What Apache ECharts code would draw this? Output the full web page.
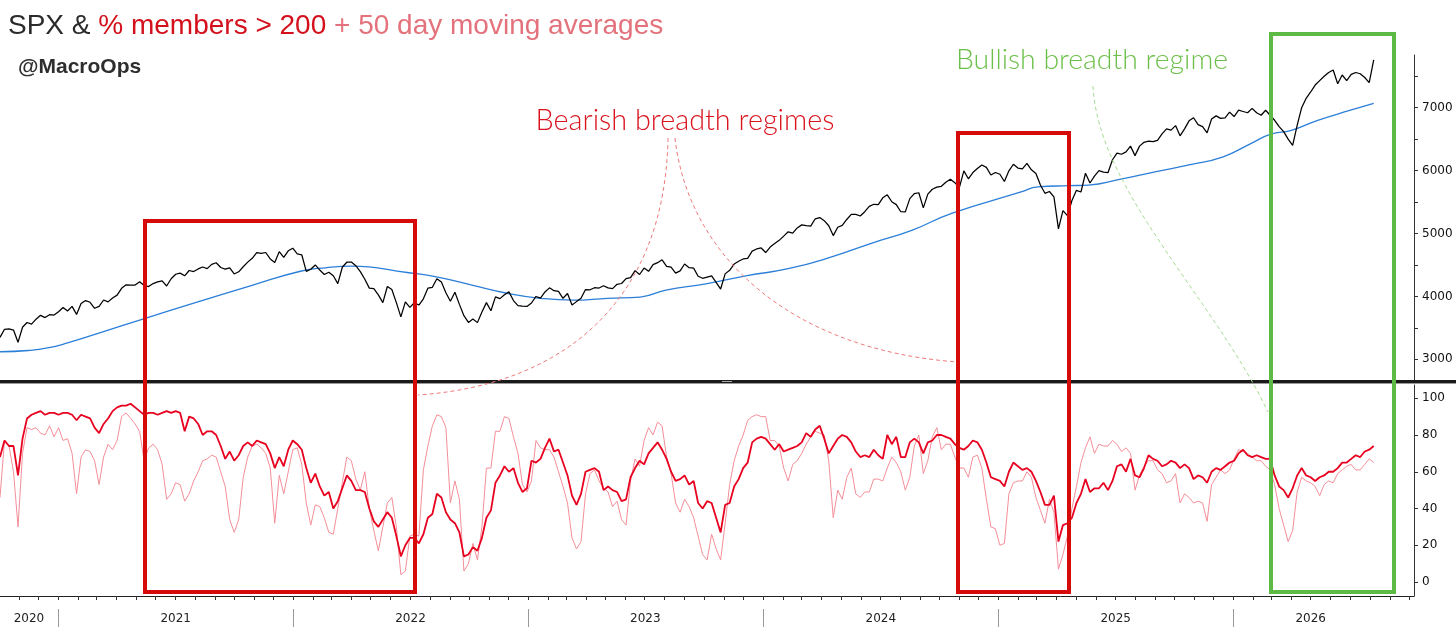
<!DOCTYPE html>
<html>
<head>
<meta charset="utf-8">
<script src="https://cdn.jsdelivr.net/npm/echarts@6/dist/echarts.min.js"></script>
<style>
html,body{margin:0;padding:0;background:#fff;}
#chart{width:1456px;height:627px;}
</style>
</head>
<body>
<div id="chart"></div>
<script>
// ---- DATA (weekly, first week ending 2020-10-02) ----
const weekStart = [2020, 10, 2];

const spx = [
3348,3477,3483,3465,3270,3509,3585,3558,3638,3699,3663,3709,3703,3756,
3824,3768,3841,3714,3886,3934,3907,3811,3842,3943,3913,3975,4020,4129,4185,4180,4181,4233,4174,4156,4204,4230,4247,4166,4281,4352,4370,4327,4412,4395,4437,4468,4442,4509,4535,4459,4433,4455,4357,4391,4471,4545,4605,4697,4683,4698,4595,4538,4712,4620,4725,4766,
4677,4662,4398,4432,4500,4419,4349,4385,4329,4204,4463,4543,4546,4488,4393,4272,4132,4123,4024,3901,4158,4109,3901,3675,3912,3825,3899,3863,3962,4130,4145,4280,4228,4058,3924,4067,3873,3693,3586,3640,3583,3752,3901,3771,3993,3965,4026,4072,3934,3852,3845,3840,
3895,3999,3973,4071,4136,4090,4079,3970,4046,3862,3917,3971,4109,4105,4138,4133,4169,4136,4124,4192,4205,4282,4299,4410,4348,4450,4399,4505,4536,4582,4478,4464,4370,4406,4515,4457,4450,4320,4288,4308,4327,4224,4117,4358,4415,4514,4559,4595,4604,4719,4754,4770,
4697,4784,4840,4891,4959,5027,5006,5089,5137,5124,5117,5234,5254,5204,5123,4967,5100,5128,5223,5303,5305,5278,5347,5432,5465,5460,5567,5615,5505,5459,5346,5344,5554,5634,5648,5408,5626,5703,5738,5751,5815,5864,5808,5729,5995,5870,5969,6032,6090,6051,5931,5970,
5942,5827,5997,6101,6041,6026,6115,6013,5955,5770,5639,5668,5581,5074,5363,5283,5525,5686,5660,5958,5803,5912,6000,5977,5967,6173,6279,6260,6297,6389,6238,6389,6450,6467,6460,6482,6584,6664,6643,6716,6553,6664,6791,6840,
6730,6700,6600,6820,6870,6830,6840,6930,6860,6960,6940,6920,6990,6920,6880,6960,6880,6800,6700,6620,6500,6400,6720,7000,7150,7250,7360,7430,7500,7560,7600,7380,7520,7430,7530,7560,7540,7480,7400,7760
];

const ma200Dates = ['2020-10-02','2020-11-15','2020-12-15','2021-01-15','2021-03-06','2021-05-12','2021-08-08','2021-10-30','2022-01-12','2022-02-20','2022-04-01','2022-06-27','2022-08-17','2022-10-07','2022-11-29','2023-01-20','2023-03-12','2023-05-04','2023-06-24','2023-08-03','2023-10-04','2023-12-07','2024-02-09','2024-04-14','2024-06-16','2024-08-19','2024-10-20','2025-02-05','2025-03-03','2025-04-20','2025-05-21','2025-07-08','2025-09-01','2025-10-24','2025-12-16','2026-01-28','2026-02-28','2026-04-01','2026-05-12','2026-07-02','2026-08-07'];
const ma200Values = [3120,3140,3180,3260,3420,3640,3920,4180,4400,4455,4480,4380,4300,4175,4050,3970,3940,3970,3990,4100,4200,4330,4440,4620,4840,5050,5320,5660,5740,5760,5770,5860,5980,6090,6220,6430,6580,6640,6800,6960,7070];

const pct200 = [
68,77,74,74,58,78,89,91,92,93,91,92,92,91,92,92,91,88,91,90,89,84,81,86,89,93,95,96,96,97,95,93,91,92,92,91,92,93,92,93,92,82,90,89,86,80,82,82,80,74,67,71,66,69,74,76,74,77,76,75,70,62,68,63,72,77,75,72,62,54,59,52,47,49,40,44,51,58,55,50,50,49,40,33,30,34,38,35,25,14,20,24,24,21,26,35,37,48,46,38,34,32,27,14,15,
19,17,24,35,39,54,58,63,60,62,54,49,51,66,65,67,73,78,71,72,65,58,47,42,48,60,61,62,60,50,52,50,49,44,45,57,62,66,64,70,73,76,72,67,60,55,56,58,53,55,43,40,44,43,35,27,42,43,52,56,62,65,76,78,79,78,75,72,75,71,72,73,74,76,81,79,83,85,78,70,74,78,80,79,76,71,68,69,68,72,69,67,80,75,79,68,68,76,78,76,70,76,
77,80,80,79,78,75,73,72,74,77,76,72,65,57,56,55,52,60,65,63,61,62,60,55,49,42,42,47,22,31,32,35,43,48,56,49,51,51,54,50,55,63,64,60,67,58,57,62,69,67,66,63,64,66,65,62,64,62,56,58,57,54,60,62,61,63,65,66,70,72,69,68,69,68,67,67,58,52,50,46,51,58,62,58,57,55,57,58,60,60,62,65,65,67,69,68,71,72,74
];

const pct50 = [
46,77,74,60,30,70,84,83,84,81,80,85,79,84,77,78,70,48,68,72,71,66,53,68,75,72,77,90,92,89,86,82,66,73,75,72,64,45,48,54,53,44,48,55,60,66,67,69,68,60,52,34,27,34,57,68,74,75,73,70,62,32,58,48,60,72,73,64,43,31,42,41,35,27,26,40,54,68,66,56,50,60,40,28,17,30,43,46,30,4,6,25,26,25,61,74,85,91,90,84,43,55,45,6,10,
21,12,30,62,62,82,82,90,89,79,70,53,49,55,77,73,72,72,68,60,52,43,24,18,22,48,59,61,55,51,49,41,44,34,31,55,67,63,77,84,80,87,85,68,59,43,38,45,41,35,25,15,12,26,18,12,32,53,66,74,80,88,90,91,90,90,77,77,74,62,55,64,66,70,75,79,82,81,80,66,35,50,45,57,62,48,46,49,49,56,56,55,62,68,65,60,50,57,74,80,59,66,
79,84,72,75,75,68,62,62,57,68,69,62,45,30,29,20,21,48,54,55,55,60,57,46,39,32,45,38,7,15,25,40,52,65,73,79,70,75,74,74,77,75,71,73,70,50,58,63,66,66,61,59,54,55,59,43,48,46,43,44,43,33,53,57,61,59,61,67,72,71,70,68,66,66,63,61,53,40,31,22,28,49,57,55,54,52,47,53,55,54,59,61,63,64,61,61,64,67,65
];

const spxTickValues = [3000,3500,4000,4500,5000,5500,6000,6500,7000,7500];
const spxLabelValues = [3000,4000,5000,6000,7000];
const breadthTickValues = [0,20,40,60,80,100];
const yearLabels = ['2020','2021','2022','2023','2024','2025','2026'];
const yearLabelDates = ['2020-11-16','2021-07-02','2022-07-02','2023-07-02','2024-07-02','2025-07-02','2026-05-01'];
const yearBoundaryDates = ['2021-01-01','2022-01-01','2023-01-01','2024-01-01','2025-01-01','2026-01-01'];

// ---- BUILD ----
const DAY = 86400000;
const toTs = s => { const p = s.split('-').map(Number); return Date.UTC(p[0], p[1]-1, p[2]); };
const startTs = Date.UTC(weekStart[0], weekStart[1]-1, weekStart[2]);
const weekDates = spx.map((_, i) => startTs + i * 7 * DAY);
const xMin = startTs;
const xMax = startTs + 2197.6 * DAY;
const monthTicks = [];
for (let y = 2020; y <= 2026; y++) for (let m = 0; m < 12; m++) {
  const t = Date.UTC(y, m, 1);
  if (t > xMin && t < xMax) monthTicks.push(t);
}
const yearLabelTs = yearLabelDates.map(toTs);

const chart = echarts.init(document.getElementById('chart'), null, {renderer: 'canvas'});
const axisFont = 'DejaVu Sans, Verdana, sans-serif';
const plain = v => String(Math.round(v));

chart.setOption({
  animation: false,
  backgroundColor: '#fff',
  grid: [
    {left: 0, top: 55, width: 1414, height: 326},
    {left: 0, top: 385, width: 1414, height: 211}
  ],
  xAxis: [
    {type: 'value', gridIndex: 0, min: xMin, max: xMax, show: false},
    {type: 'value', gridIndex: 1, min: xMin, max: xMax,
     axisLine: {show: true, onZero: false, lineStyle: {color: '#222', width: 1}},
     axisTick: {show: true, customValues: monthTicks, length: 4, lineStyle: {color: '#333'}},
     axisLabel: {show: true, customValues: yearLabelTs, margin: 17, color: '#222', fontSize: 12, fontFamily: axisFont,
       formatter: v => { const k = yearLabelTs.indexOf(v); return k >= 0 ? yearLabels[k] : ''; }},
     splitLine: {show: false}},
    {type: 'value', gridIndex: 1, min: xMin, max: xMax, position: 'bottom', offset: 13,
     axisLine: {show: false, onZero: false},
     axisTick: {show: true, customValues: yearBoundaryDates.map(toTs), length: 18, lineStyle: {color: '#999', width: 1}},
     axisLabel: {show: false}, splitLine: {show: false}}
  ],
  yAxis: [
    {type: 'value', gridIndex: 0, position: 'right', min: 2655, max: 7838,
     axisLine: {show: true, onZero: false, lineStyle: {color: '#333', width: 1}},
     axisTick: {show: true, customValues: spxTickValues, length: 4, lineStyle: {color: '#333'}},
     axisLabel: {show: true, customValues: spxLabelValues, margin: 8, color: '#111', fontSize: 12, fontFamily: axisFont, formatter: plain},
     splitLine: {show: false}},
    {type: 'value', gridIndex: 1, position: 'right', min: -7.6, max: 107.2,
     axisLine: {show: true, onZero: false, lineStyle: {color: '#333', width: 1}},
     axisTick: {show: true, customValues: breadthTickValues, length: 4, lineStyle: {color: '#333'}},
     axisLabel: {show: true, customValues: breadthTickValues, margin: 8, color: '#111', fontSize: 12, fontFamily: axisFont, formatter: plain},
     splitLine: {show: false}}
  ],
  series: [
    {name: 'SPX 200d MA', type: 'line', xAxisIndex: 0, yAxisIndex: 0, showSymbol: false, smooth: true,
     data: ma200Dates.map((d, i) => [toTs(d), ma200Values[i]]),
     lineStyle: {color: '#2c7fd8', width: 1.3}, z: 2},
    {name: 'SPX', type: 'line', xAxisIndex: 0, yAxisIndex: 0, showSymbol: false,
     data: spx.map((v, i) => [weekDates[i], v]),
     lineStyle: {color: '#000', width: 1.25}, z: 3},
    {name: '% > 50d', type: 'line', xAxisIndex: 1, yAxisIndex: 1, showSymbol: false,
     data: pct50.map((v, i) => [weekDates[i], v]),
     lineStyle: {color: '#f48e99', width: 1}, z: 2},
    {name: '% > 200d', type: 'line', xAxisIndex: 1, yAxisIndex: 1, showSymbol: false,
     data: pct200.map((v, i) => [weekDates[i], v]),
     lineStyle: {color: '#e8001f', width: 1.8}, z: 3}
  ],
  graphic: [
    {type: 'rect', z: 50, shape: {x: 0, y: 380, width: 1456, height: 3}, style: {fill: '#1a1a1a'}},
    {type: 'rect', z: 50, shape: {x: 0, y: 383, width: 1456, height: 1}, style: {fill: '#9a9a9a'}},
    {type: 'rect', z: 51, shape: {x: 722, y: 381, width: 10, height: 1}, style: {fill: '#aaa'}},
    {type: 'text', z: 60, x: 8, y: 26, style: {
      text: '{a|SPX & }{b|% members > 200}{c| + 50 day moving averages}',
      verticalAlign: 'middle',
      rich: {
        a: {fill: '#2b2b2b', fontSize: 28, fontFamily: 'Liberation Sans, Arial, sans-serif'},
        b: {fill: '#d3101c', fontSize: 28, fontFamily: 'Liberation Sans, Arial, sans-serif'},
        c: {fill: '#e4727c', fontSize: 28, fontFamily: 'Liberation Sans, Arial, sans-serif'}
      }}},
    {type: 'text', z: 60, x: 18, y: 67, style: {text: '@MacroOps', fill: '#2e2e2e', fontSize: 21, fontWeight: 'bold',
      fontFamily: 'Liberation Sans, Arial, sans-serif', verticalAlign: 'middle'}},
    {type: 'text', z: 60, x: 685, y: 121, style: {text: 'Bearish breadth regimes', fill: '#d9141e', fontSize: 28.8, fontWeight: 300,
      fontFamily: 'Lato, Open Sans, sans-serif', align: 'center', verticalAlign: 'middle'}},
    {type: 'text', z: 60, x: 1092, y: 60, style: {text: 'Bullish breadth regime', fill: '#6cc04a', fontSize: 28.4, fontWeight: 300,
      fontFamily: 'Lato, Open Sans, sans-serif', align: 'center', verticalAlign: 'middle'}},
    {type: 'bezierCurve', z: 55, shape: {x1: 668, y1: 138, cpx1: 665, cpy1: 300, cpx2: 565, cpy2: 385, x2: 418, y2: 395},
      style: {stroke: '#ee7b7b', lineWidth: 1, lineDash: [4, 3], fill: 'none'}},
    {type: 'bezierCurve', z: 55, shape: {x1: 675, y1: 138, cpx1: 688, cpy1: 255, cpx2: 790, cpy2: 350, x2: 958, y2: 362},
      style: {stroke: '#ee7b7b', lineWidth: 1, lineDash: [4, 3], fill: 'none'}},
    {type: 'bezierCurve', z: 55, shape: {x1: 1093, y1: 86, cpx1: 1098, cpy1: 190, cpx2: 1215, cpy2: 300, x2: 1268, y2: 412},
      style: {stroke: '#a6dc94', lineWidth: 1, lineDash: [4, 3], fill: 'none'}},
    {type: 'rect', z: 70, shape: {x: 145, y: 221, width: 270, height: 371}, style: {fill: 'none', stroke: '#d70a0a', lineWidth: 4}},
    {type: 'rect', z: 70, shape: {x: 958, y: 133, width: 111, height: 459}, style: {fill: 'none', stroke: '#d70a0a', lineWidth: 4}},
    {type: 'rect', z: 70, shape: {x: 1271, y: 34, width: 123, height: 558}, style: {fill: 'none', stroke: '#5cba45', lineWidth: 4}}
  ]
});
</script>
</body>
</html>
